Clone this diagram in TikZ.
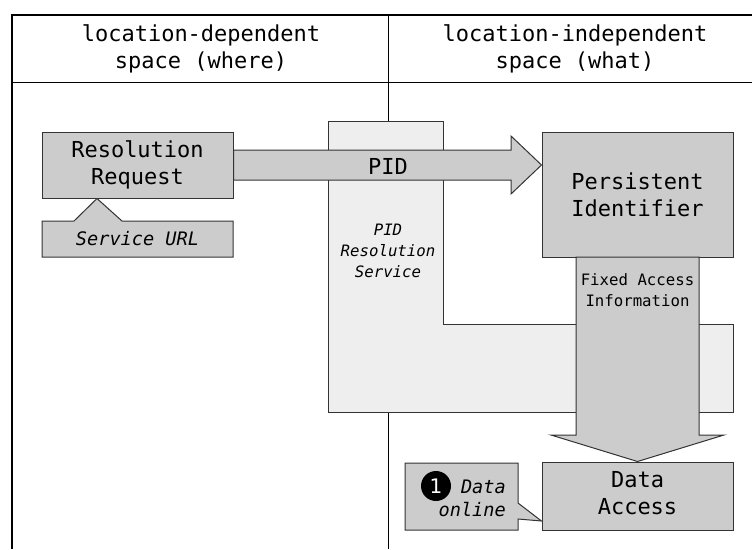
\documentclass[tikz,border=0pt]{standalone}
\usepackage{fontspec}
\newfontfamily\mono{DejaVu Sans Mono}
\newfontfamily\numfont{DejaVu Sans}
\definecolor{boxgray}{HTML}{CCCCCC}
\definecolor{lightgray}{HTML}{EEEEEE}
\definecolor{edge}{HTML}{333333}
\tikzset{
  frameline/.style={draw=black, line width=1.6pt},
  thinline/.style={draw=black, line width=1pt},
  graybox/.style={draw=edge, fill=boxgray, line width=1pt, rectangle, inner sep=0pt},
  bigtxt/.style={font=\mono\fontsize{22}{27}\selectfont, align=center, inner sep=0pt},
  midtxt/.style={font=\mono\itshape\fontsize{18.6}{23}\selectfont, inner sep=0pt},
  smalltxt/.style={font=\mono\fontsize{15.7}{21}\selectfont, align=center, inner sep=0pt},
  smallit/.style={font=\mono\itshape\fontsize{15.7}{21}\selectfont, align=center, inner sep=0pt},
}
\begin{document}
\begin{tikzpicture}[x=1pt, y=-1pt]
\useasboundingbox (0,0) rectangle (752,549);
\begin{scope}
\clip (0,0) rectangle (752,549);
% table frame
\draw[frameline] (12,549) -- (12,15) -- (760,15);
\draw[thinline] (12,82) -- (760,82);
\draw[thinline] (388,15) -- (388,549);
\end{scope}
\node[bigtxt] (hleft) at (201,49) {location-dependent\\space (where)};
\node[bigtxt] (hright) at (575,49) {location-independent\\space (what)};

% PID resolution service (L-shaped light box)
\draw[draw=edge, fill=lightgray, line width=1pt]
  (328,121) -- (443,121) -- (443,324) -- (733,324) -- (733,412) -- (328,412) -- cycle;
\node[smallit] (svc) at (388,251) {PID\\Resolution\\Service};

% boxes
\node[graybox, minimum width=191pt, minimum height=66pt] (rr) at (137.5,165) {};
\node[bigtxt] at (rr.center) {Resolution\\Request};

\coordinate (su) at (137.5,239);
\draw[draw=edge, fill=boxgray, line width=1pt]
  (42,221) -- (74,221) -- (97,198.5) -- (122,221) -- (233,221) -- (233,257) -- (42,257) -- cycle;
\node[midtxt] (sutxt) at (su) {Service URL};

\node[graybox, minimum width=191pt, minimum height=125pt] (pi) at (637.5,194.5) {};
\node[bigtxt] at (pi.center) {Persistent\\Identifier};

\node[graybox, minimum width=191pt, minimum height=68pt] (da) at (637.5,496) {};
\node[bigtxt] at ([yshift=3pt]da.center) {Data\\Access};

% PID block arrow
\draw[draw=edge, fill=boxgray, line width=1pt]
  (rr.east |- 0,150) -- (511,150) -- (511,136) -- (pi.west |- 0,165) -- (511,194) -- (511,180) -- (rr.east |- 0,180) -- cycle;
\node[bigtxt] (pidlbl) at (388,166) {PID};

% Fixed access block arrow
\draw[draw=edge, fill=boxgray, line width=1pt]
  (576,257) -- (699,257) -- (699,435) -- (724,435) -- (da.north) -- (551,435) -- (576,435) -- cycle;
\node[smalltxt] (fai) at (637.5,290) {Fixed Access\\Information};

% callout
\draw[draw=edge, fill=boxgray, line width=1pt]
  (405,463) -- (518,463) -- (518,503) -- (da.west |- 0,521) -- (518,519) -- (518,530) -- (405,530) -- cycle;
\node[circle, fill=black, minimum size=30pt, inner sep=0pt, text=white, font=\numfont\fontsize{20}{20}\selectfont] (one) at (436,486) {1};
\node[midtxt, anchor=east, align=right] (donl) at (506,498) {Data\\online};
\end{tikzpicture}
\end{document}
